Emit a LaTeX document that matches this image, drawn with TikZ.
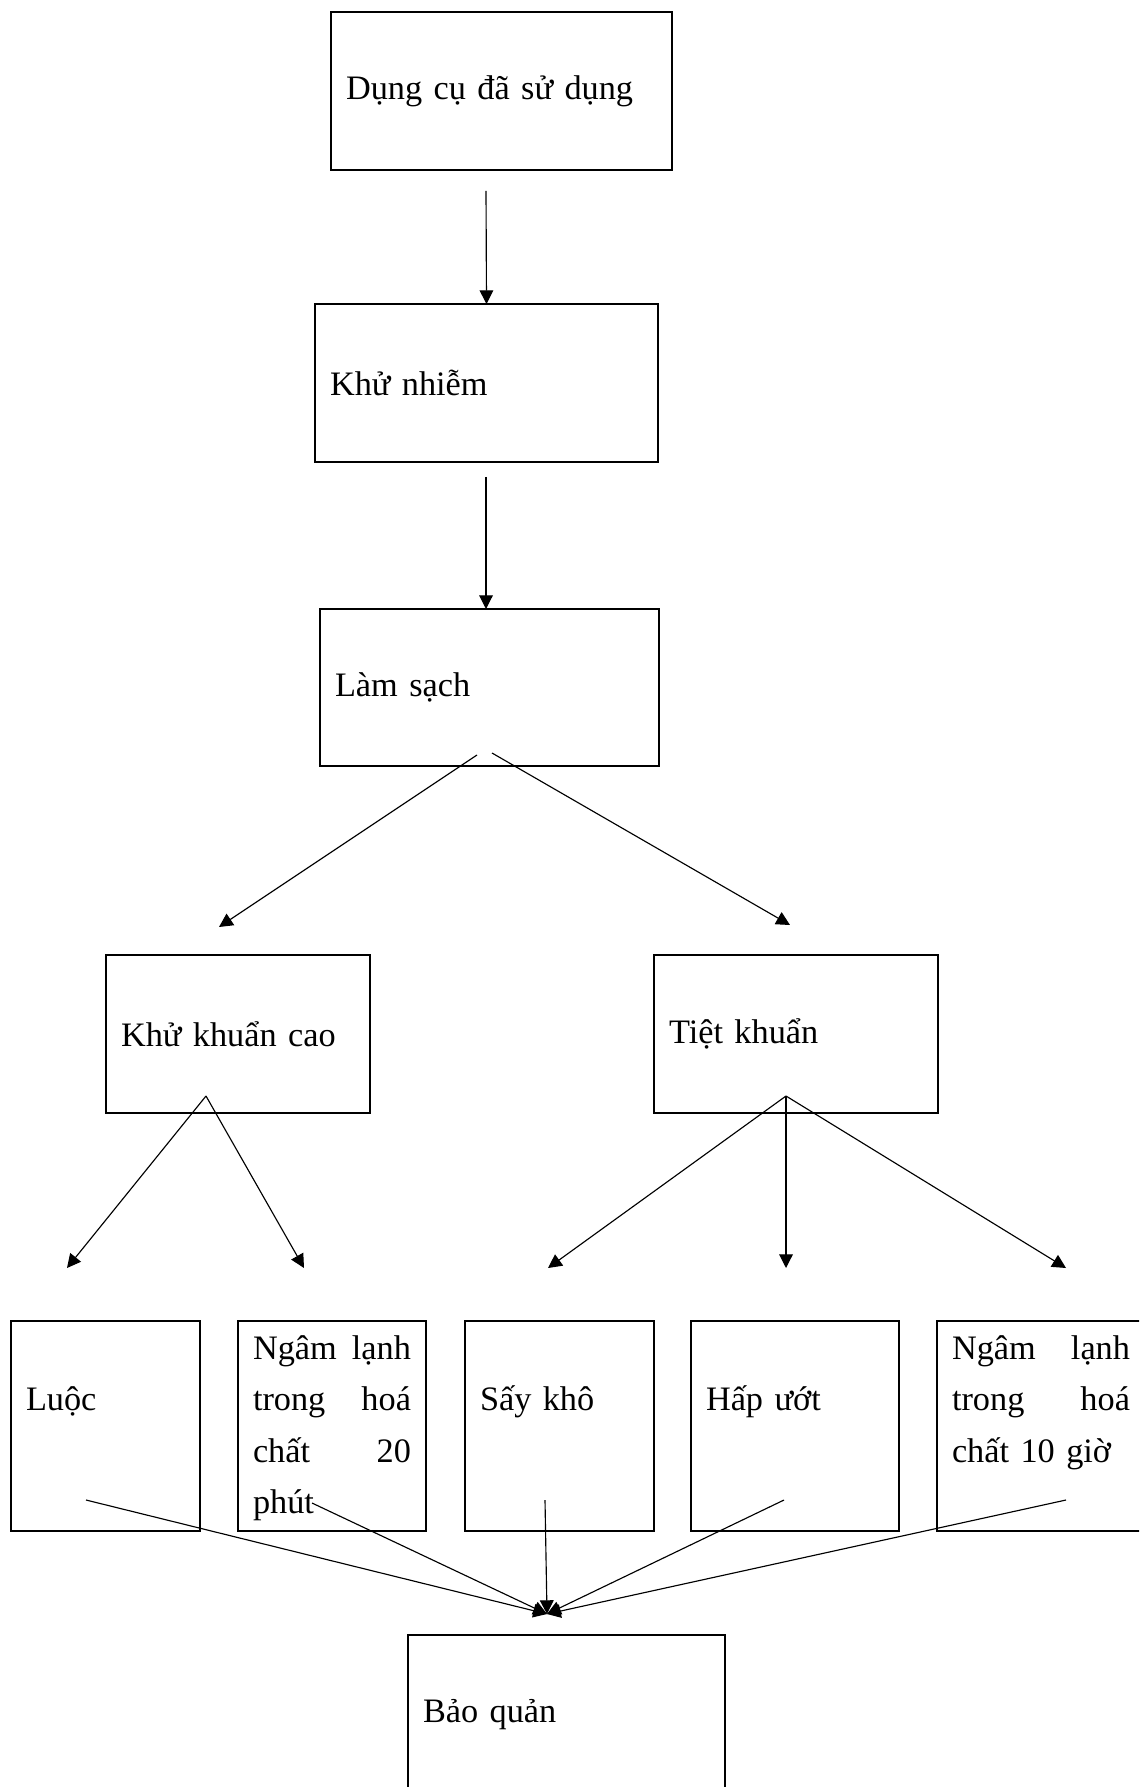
\documentclass[tikz,border=0pt]{standalone}
\usepackage{fontspec}
\setmainfont[WordSpace=0.8]{Liberation Serif}
\usetikzlibrary{arrows.meta}

\begin{document}
\begin{tikzpicture}[x=0.35pt, y=-0.35pt,
  box/.style={draw=black, line width=0.75pt, align=left, inner xsep=5.25pt,
              inner ysep=0pt, outer sep=0pt, font=\fontsize{12}{18}\selectfont},
  topbox/.style={box, minimum height=55.3pt},
  lowbox/.style={box, minimum height=73.5pt},
  arrow/.style={-{Triangle[length=4.8pt,width=4.8pt]}, line width=0.4pt},
]
  \useasboundingbox (0,0) rectangle (1139,1787);
  \clip (0,0) rectangle (1139,1787);

  % ---- Chain ----
  \node[topbox, text width=108.85pt] (dung) at (501.5,91) {Dụng cụ đã sử dụng};
  \node[topbox, text width=109.55pt] (khu) at (486.5,383) {Khử nhiễm};
  \node[topbox, text width=108.15pt, minimum height=54.95pt] (lam) at (489.5,687.5) {Làm sạch};

  \node[topbox, text width=81.9pt] (kkc) at (238,1034) {Khử khuẩn cao};
  \node[topbox, text width=88.9pt] (tiet) at (796,1034) {Tiệt khuẩn};

  % ---- Methods ----
  \node[lowbox, text width=55.65pt] (luoc) at (105.5,1426) {\strut\\Luộc\strut\\\strut\\\strut};
  \node[lowbox, text width=55.3pt] (ngam1) at (332,1426) {\strut Ngâm\hfill lạnh\\trong\hfill hoá\\chất\hfill 20\\phút\strut};
  \node[lowbox, text width=55.65pt] (say) at (559.5,1426) {\strut\\Sấy khô\strut\\\strut\\\strut};
  \node[lowbox, text width=62.3pt] (hap) at (795,1426) {\strut\\Hấp ướt\strut\\\strut\\\strut};
  \node[lowbox, text width=62.3pt] (ngam2) at (1041,1426) {\strut Ngâm\hfill lạnh\\trong\hfill hoá\\chất 10 giờ\\\strut};

  \node[box, text width=100.45pt, minimum height=56pt] (bao) at (566.5,1715) {Bảo quản};

  % ---- Arrow ends ----
  \coordinate (a1) at (486,191);
  \coordinate (a2) at (486,477);
  \coordinate (b1) at (477,755);
  \coordinate (b2) at (492,753);
  \coordinate (c1) at (219,927);
  \coordinate (c2) at (790,925);
  \coordinate (k0) at (206,1096);
  \coordinate (t0) at (786,1096);
  \coordinate (m1) at (67,1268);
  \coordinate (m2) at (304,1268);
  \coordinate (m3) at (548,1268);
  \coordinate (m4) at (786,1268);
  \coordinate (m5) at (1066,1268);
  \coordinate (p1) at (86,1500);
  \coordinate (p2) at (312,1503);
  \coordinate (p3) at (545,1500);
  \coordinate (p4) at (784,1500);
  \coordinate (p5) at (1066,1500);
  \coordinate (hub) at (547,1614);

  % ---- Arrows ----
  \draw[arrow] (a1) -- (khu.north);
  \draw[arrow] (a2) -- (a2 |- lam.north);
  \draw[arrow] (b1) -- (c1);
  \draw[arrow] (b2) -- (c2);
  \draw[arrow] (k0) -- (m1);
  \draw[arrow] (k0) -- (m2);
  \draw[arrow] (t0) -- (m3);
  \draw[arrow] (t0) -- (m4);
  \draw[arrow] (t0) -- (m5);
  \foreach \p in {p1,p2,p3,p4,p5}
    \draw[arrow] (\p) -- (hub);
\end{tikzpicture}
\end{document}
